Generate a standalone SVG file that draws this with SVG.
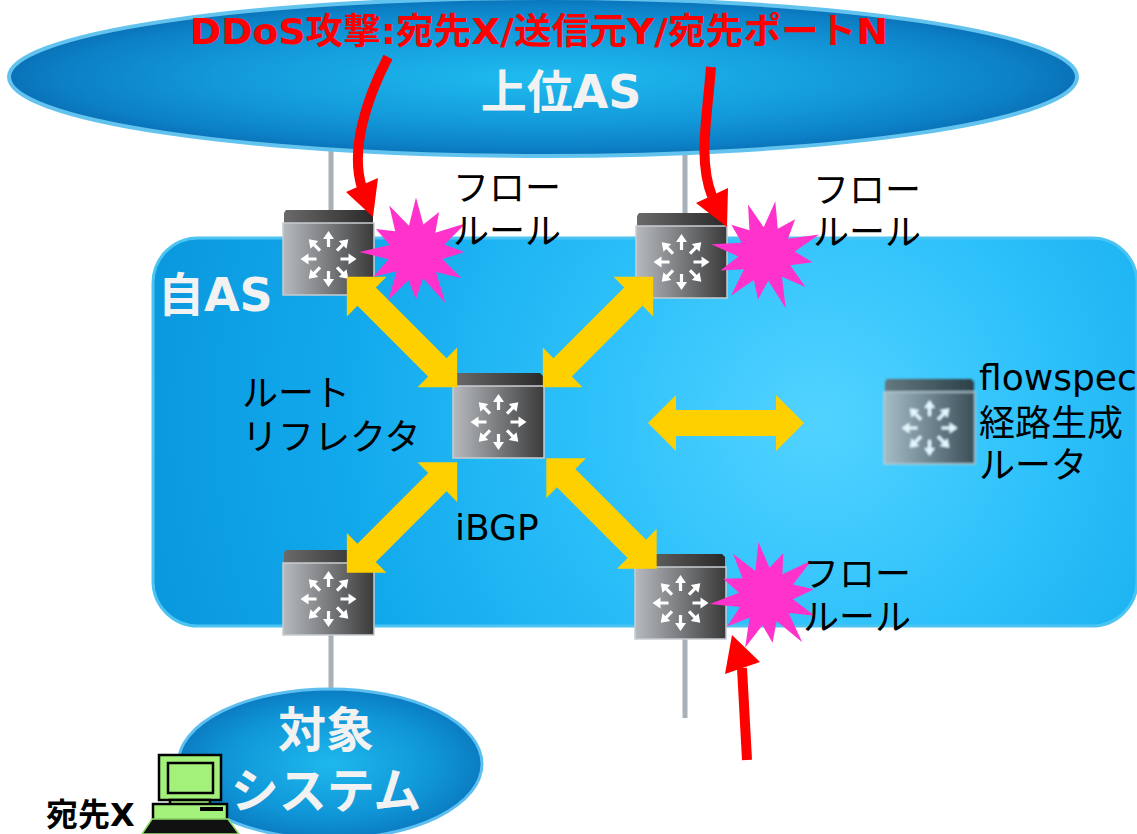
<svg xmlns="http://www.w3.org/2000/svg" xmlns:xlink="http://www.w3.org/1999/xlink" width="1137" height="834" viewBox="0 0 1137 834">
  <style>
    .lbl { font-family: "DejaVu Sans", "Noto Sans CJK JP", sans-serif; font-size: 36px; fill: #000; }
    .white-b { font-family: "DejaVu Sans", "Noto Sans CJK JP", sans-serif; font-weight: bold; fill: #f2f2f2; }
    .attack { font-family: "DejaVu Sans", "Noto Sans CJK JP", sans-serif; font-weight: bold; font-size: 36px; fill: #ff0000; }
    .wire { stroke: #a9b1b8; stroke-width: 5; fill: none; }
    .bgp { fill: #ffd000; }
    .red-line { stroke: #ff0000; fill: none; stroke-width: 10; }
    .red-head { fill: #ff0000; }
    .burst { fill: #ff33cc; }
    .pc { fill: #a3f07a; stroke: #000; stroke-width: 2.5; }
  </style>
  <defs>
    <radialGradient id="upperGrad" cx="0.5" cy="0.5" r="0.5">
      <stop offset="0" stop-color="#1fbcef"/>
      <stop offset="0.6" stop-color="#1399da"/>
      <stop offset="0.9" stop-color="#0c80c6"/>
      <stop offset="1" stop-color="#0a72b8"/>
    </radialGradient>
    <radialGradient id="asGrad" gradientUnits="userSpaceOnUse" cx="820" cy="420" r="680">
      <stop offset="0" stop-color="#52d3ff"/>
      <stop offset="0.35" stop-color="#2cc0fa"/>
      <stop offset="0.7" stop-color="#12a9ec"/>
      <stop offset="1" stop-color="#0a98de"/>
    </radialGradient>
    <radialGradient id="targetGrad" cx="0.5" cy="0.5" r="0.5">
      <stop offset="0" stop-color="#1eb8ec"/>
      <stop offset="0.7" stop-color="#0f95d7"/>
      <stop offset="1" stop-color="#0b7cc2"/>
    </radialGradient>
    <linearGradient id="faceGrad" x1="0" y1="0" x2="1" y2="0">
      <stop offset="0" stop-color="#b6babe"/>
      <stop offset="0.45" stop-color="#7f8184"/>
      <stop offset="1" stop-color="#3a3a3a"/>
    </linearGradient>
    <linearGradient id="lidGrad" x1="0" y1="0" x2="1" y2="0">
      <stop offset="0" stop-color="#6a6a6a"/>
      <stop offset="1" stop-color="#2a2a2a"/>
    </linearGradient>
    <filter id="soft" x="-10%" y="-10%" width="120%" height="120%">
      <feGaussianBlur stdDeviation="1.3"/>
    </filter>

    <!-- one white arrow of the router glyph, pointing up from the centre -->
    <polygon id="rt-arrow" points="-1.6,-12 -1.6,-20 -5.5,-20 0,-28 5.5,-20 1.6,-20 1.6,-12" fill="#ffffff"/>

    <!-- router box: dark lid on top of a shaded front face with 8 radiating arrows -->
    <g id="router">
      <path d="M3,0 H87 L90,3 V14 H1 V3 Z" fill="url(#lidGrad)"/>
      <rect x="0" y="13" width="91" height="72" fill="url(#faceGrad)" stroke="#c9cdd1" stroke-width="1.5"/>
      <g transform="translate(45.5,49)">
        <use href="#rt-arrow"/>
        <use href="#rt-arrow" transform="rotate(45)"/>
        <use href="#rt-arrow" transform="rotate(90)"/>
        <use href="#rt-arrow" transform="rotate(135)"/>
        <use href="#rt-arrow" transform="rotate(180)"/>
        <use href="#rt-arrow" transform="rotate(225)"/>
        <use href="#rt-arrow" transform="rotate(270)"/>
        <use href="#rt-arrow" transform="rotate(315)"/>
      </g>
    </g>

    <!-- flow-rule starburst -->
    <polygon id="burst" class="burst" points="0,-52 7,-26.1 22,-38.1 18.4,-18.4 47.6,-27.5 27,-7.2 46,0 25.1,6.7 43.3,25 19.1,19.1 28,48.5 6.7,25.1 0,45 -7.2,27 -26.5,45.9 -18.4,18.4 -40.7,23.5 -26.1,7 -54,0 -25.1,-6.7 -38.1,-22 -19.8,-19.8 -25.5,-44.2 -6.7,-25.1"/>

    <!-- double-headed iBGP session arrow, centred on the origin -->
    <polygon id="dbl-arrow" class="bgp" points="-78,0 -50,-28 -50,-13 50,-13 50,-28 78,0 50,28 50,13 -50,13 -50,28"/>
  </defs>

  <rect width="1137" height="834" fill="#ffffff"/>

  <!-- physical links between the AS clouds and the border routers -->
  <g id="links">
    <line class="wire" x1="331" y1="140" x2="331" y2="215"/>
    <line class="wire" x1="685" y1="140" x2="685" y2="218"/>
    <line class="wire" x1="331" y1="630" x2="331" y2="700"/>
    <line class="wire" x1="685" y1="635" x2="685" y2="718"/>
  </g>

  <!-- upstream AS -->
  <g id="upper-as">
    <ellipse cx="543" cy="77" rx="534" ry="79" fill="url(#upperGrad)" stroke="#62c3ee" stroke-width="4"/>
    <text class="white-b" x="561" y="108" font-size="46" text-anchor="middle">上位AS</text>
  </g>

  <!-- own AS -->
  <g id="own-as">
    <rect x="153" y="238" width="984" height="388" rx="45" fill="url(#asGrad)" stroke="#4cc4f2" stroke-width="3"/>
    <text class="white-b" x="158" y="311" font-size="46">自AS</text>
  </g>

  <!-- protected system -->
  <g id="target-system">
    <ellipse cx="330" cy="764" rx="152" ry="75" fill="url(#targetGrad)" stroke="#5cbff0" stroke-width="3"/>
    <text class="white-b" x="326" y="747" font-size="48" text-anchor="middle">対象</text>
    <text class="white-b" x="326" y="808" font-size="48" font-weight="normal" text-anchor="middle">システム</text>
  </g>

  <!-- routers -->
  <g id="router-tl" transform="translate(283,210)"><use href="#router"/></g>
  <g id="router-tr" transform="translate(636,213)"><use href="#router"/></g>
  <g id="route-reflector" transform="translate(453,373)"><use href="#router"/></g>
  <g id="router-bl" transform="translate(283,550)"><use href="#router"/></g>
  <g id="router-br" transform="translate(635,554)"><use href="#router"/></g>
  <g id="flowspec-router" transform="translate(884,379)" filter="url(#soft)" opacity="0.85"><use href="#router"/></g>

  <!-- iBGP sessions and attack traffic -->
  <g id="connectors">
    <use href="#dbl-arrow" transform="translate(402,332) rotate(45)"/>
    <use href="#dbl-arrow" transform="translate(598,332) rotate(-45)"/>
    <use href="#dbl-arrow" transform="translate(402,517.5) rotate(-45)"/>
    <use href="#dbl-arrow" transform="translate(601.5,513.5) rotate(45)"/>
    <use href="#dbl-arrow" transform="translate(726,423)"/>

    <path class="red-line" d="M388,57 C366,100 350,150 362,188"/>
    <polygon class="red-head" points="373,217 346,192 378,178"/>
    <path class="red-line" d="M711,67 C707,120 698,160 712,196"/>
    <polygon class="red-head" points="727,227 696,203 728,188"/>
    <path class="red-line" stroke-width="12" d="M747,760 L742,668"/>
    <polygon class="red-head" points="732,635 725,674 760,662"/>
  </g>

  <!-- flow rules installed on the border routers -->
  <g id="flow-rule-tl">
    <use href="#burst" transform="translate(416,252) scale(1.05)"/>
    <text class="lbl" x="453" y="201">フロー</text>
    <text class="lbl" x="453" y="244">ルール</text>
  </g>
  <g id="flow-rule-tr">
    <use href="#burst" transform="translate(766,254) rotate(10) scale(1.03)"/>
    <text class="lbl" x="813" y="203">フロー</text>
    <text class="lbl" x="813" y="245">ルール</text>
  </g>
  <g id="flow-rule-br">
    <use href="#burst" transform="translate(766,596) rotate(-8) scale(1.05)"/>
    <text class="lbl" x="803" y="587">フロー</text>
    <text class="lbl" x="803" y="630">ルール</text>
  </g>

  <!-- labels -->
  <g id="labels">
    <text class="attack" x="190" y="44" textLength="698" lengthAdjust="spacingAndGlyphs">DDoS攻撃:宛先X/送信元Y/宛先ポートN</text>
    <text class="lbl" x="242" y="406">ルート</text>
    <text class="lbl" x="242" y="450">リフレクタ</text>
    <text class="lbl" x="455" y="540">iBGP</text>
    <text class="lbl" x="979" y="390" font-size="35">flowspec</text>
    <text class="lbl" x="979" y="436">経路生成</text>
    <text class="lbl" x="979" y="478">ルータ</text>
  </g>

  <!-- destination host -->
  <g id="host-x">
    <rect class="pc" x="159" y="755" width="62" height="45"/>
    <rect class="pc" x="168" y="763" width="45" height="30" fill="#98ea70"/>
    <rect class="pc" x="170" y="800" width="40" height="5"/>
    <rect class="pc" x="153" y="804" width="74" height="16"/>
    <rect x="200" y="807" width="23" height="4" fill="#000"/>
    <polygon points="152,819 228,819 239,834 142,834" fill="#111" stroke="#8ee06a" stroke-width="1.5"/>
    <text font-family="DejaVu Sans, Noto Sans CJK JP, sans-serif" font-weight="bold" font-size="32" fill="#000" x="46" y="826">宛先X</text>
  </g>
</svg>
